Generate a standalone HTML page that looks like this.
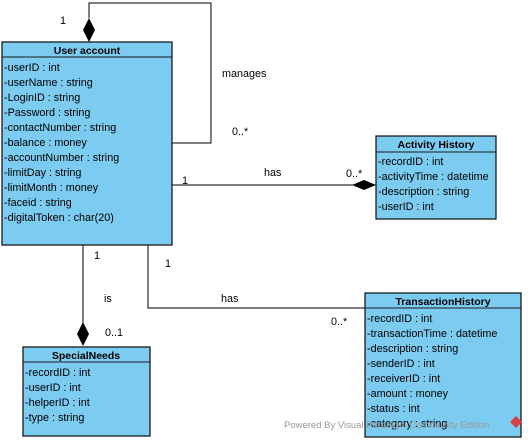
<!DOCTYPE html>
<html><head><style>
body{margin:0;background:#fff;}
svg{display:block;font-family:"Liberation Sans",Arial,sans-serif;font-size:10.8px;}
.b{fill:#7ccbf0;stroke:#1a1a1a;stroke-width:1.3;}
.h{font-weight:bold;font-size:10.5px;}
</style></head><body>
<svg width="528" height="440" viewBox="0 0 528 440">
<g stroke="#000" stroke-width="1" fill="none">
<polyline points="89,18 89,3 211,3 211,143 172,143"/>
<line x1="172" y1="185" x2="355" y2="185"/>
<line x1="83" y1="245" x2="83" y2="325"/>
<polyline points="148,245 148,308 365,308"/>
</g>
<polygon points="89,18 95,30 89,42 83,30" fill="#000"/>
<polygon points="352,185 364,180 376,185 364,190" fill="#000"/>
<polygon points="83,322 89,334 83,346 77,334" fill="#000"/>
<g fill="#000">
<text x="60" y="24">1</text>
<text x="222" y="77">manages</text>
<text x="232" y="135">0..*</text>
<text x="182" y="184">1</text>
<text x="264" y="176">has</text>
<text x="346" y="177">0..*</text>
<text x="94" y="259">1</text>
<text x="165" y="267">1</text>
<text x="104" y="302">is</text>
<text x="221" y="302">has</text>
<text x="105" y="336">0..1</text>
<text x="331" y="325">0..*</text>
</g>
<rect class="b" x="2" y="42" width="170" height="203"/>
<line x1="2" y1="57" x2="172" y2="57" stroke="#1a1a1a"/>
<text class="h" x="87" y="54" text-anchor="middle">User account</text>
<g>
<text x="4" y="71">-userID : int</text>
<text x="4" y="86">-userName : string</text>
<text x="4" y="101">-LoginID : string</text>
<text x="4" y="116">-Password : string</text>
<text x="4" y="131">-contactNumber : string</text>
<text x="4" y="146">-balance : money</text>
<text x="4" y="161">-accountNumber : string</text>
<text x="4" y="176">-limitDay : string</text>
<text x="4" y="191">-limitMonth : money</text>
<text x="4" y="206">-faceid : string</text>
<text x="4" y="221">-digitalToken : char(20)</text>
</g>
<rect class="b" x="376" y="136" width="120" height="83"/>
<line x1="376" y1="152" x2="496" y2="152" stroke="#1a1a1a"/>
<text class="h" x="436" y="148" text-anchor="middle">Activity History</text>
<text x="378" y="165">-recordID : int</text>
<text x="378" y="180">-activityTime : datetime</text>
<text x="378" y="195">-description : string</text>
<text x="378" y="210">-userID : int</text>
<rect class="b" x="365" y="293" width="156" height="144"/>
<line x1="365" y1="308" x2="521" y2="308" stroke="#1a1a1a"/>
<text class="h" x="443" y="305" text-anchor="middle">TransactionHistory</text>
<text x="367" y="322">-recordID : int</text>
<text x="367" y="337">-transactionTime : datetime</text>
<text x="367" y="352">-description : string</text>
<text x="367" y="367">-senderID : int</text>
<text x="367" y="382">-receiverID : int</text>
<text x="367" y="397">-amount : money</text>
<text x="367" y="412">-status : int</text>
<text x="367" y="427">-category : string</text>
<rect class="b" x="23" y="347" width="127" height="89"/>
<line x1="23" y1="362" x2="150" y2="362" stroke="#1a1a1a"/>
<text class="h" x="86" y="359" text-anchor="middle">SpecialNeeds</text>
<text x="25" y="376">-recordID : int</text>
<text x="25" y="391">-userID : int</text>
<text x="25" y="406">-helperID : int</text>
<text x="25" y="421">-type : string</text>
<text x="284" y="428" fill="#999" font-size="9.5">Powered By Visual Paradigm Community Edition</text>
<polygon points="516,416 522,422 516,428 510,422" fill="#d94040"/>
</svg>
</body></html>
